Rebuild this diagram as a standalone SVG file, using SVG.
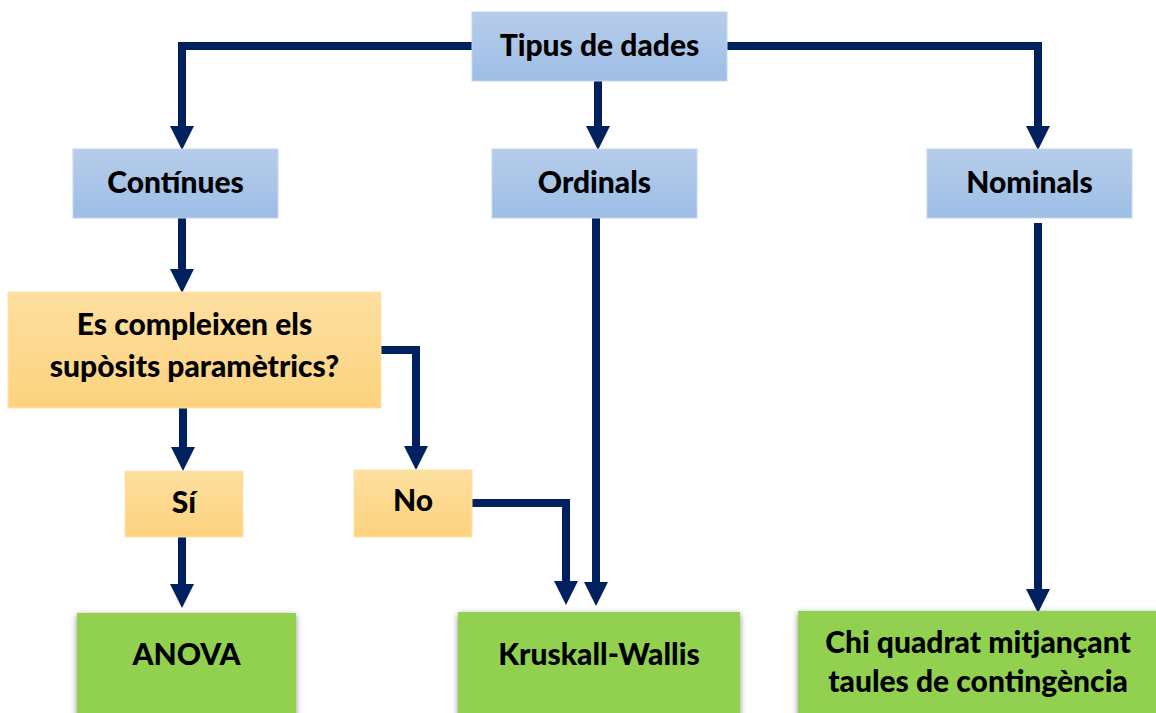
<svg xmlns="http://www.w3.org/2000/svg" width="1156" height="713" viewBox="0 0 1156 713">
<style>
.t{font-family:Lato,"Liberation Sans",sans-serif;font-weight:900;font-size:30px;fill:#000;text-anchor:middle}
.c{fill:none;stroke:#002060;stroke-width:8}
.blue{fill:url(#gb);stroke:#c4d6ee;stroke-width:1}
.org{fill:url(#go);stroke:#fde3a8;stroke-width:1}
.grn{fill:#92d050;filter:url(#sh)}
</style>
<defs>
<linearGradient id="gb" x1="0" y1="0" x2="0" y2="1">
<stop offset="0" stop-color="#b7cdea"/>
<stop offset="1" stop-color="#9dbde6"/>
</linearGradient>
<linearGradient id="go" x1="0" y1="0" x2="0" y2="1">
<stop offset="0" stop-color="#fedfa0"/>
<stop offset="1" stop-color="#fcd37e"/>
</linearGradient>
<filter id="sh" x="-10%" y="-10%" width="120%" height="130%">
<feDropShadow dx="0" dy="2" stdDeviation="3" flood-color="#000" flood-opacity="0.45"/>
</filter>
</defs>
<g id="connectors">
<path class="c" d="M472,46 H182 V126"/>
<path class="c" d="M727,46 H1038 V126"/>
<path class="c" d="M598,81 V126"/>
<path class="c" d="M182,218 V270"/>
<path class="c" d="M183,408 V448"/>
<path class="c" d="M381,350 H416 V447"/>
<path class="c" d="M182,537 V585"/>
<path class="c" d="M472,503 H566 V582"/>
<path class="c" d="M596,218 V583"/>
<path class="c" d="M1038,223 V590"/>
<g fill="#002060">
<path d="M170,126 L194,126 L182,150 Z"/>
<path d="M1026,126 L1050,126 L1038,150 Z"/>
<path d="M586,126 L610,126 L598,150 Z"/>
<path d="M170,269 L194,269 L182,293 Z"/>
<path d="M171,447 L195,447 L183,471 Z"/>
<path d="M404,446 L428,446 L416,470 Z"/>
<path d="M170,584 L194,584 L182,608 Z"/>
<path d="M554,581 L578,581 L566,605 Z"/>
<path d="M584,582 L608,582 L596,606 Z"/>
<path d="M1026,589 L1050,589 L1038,613 Z"/>
</g>
</g>
<g id="n-tipus"><rect class="blue" x="472" y="12" width="255" height="69"/><text class="t" x="599.5" y="56">Tipus de dades</text></g>
<g id="n-continues"><rect class="blue" x="73" y="149" width="205" height="69"/><text class="t" x="175.5" y="193">Contínues</text></g>
<g id="n-ordinals"><rect class="blue" x="492" y="149" width="205" height="69"/><text class="t" x="594.5" y="193">Ordinals</text></g>
<g id="n-nominals"><rect class="blue" x="927" y="149" width="205" height="69"/><text class="t" x="1029.5" y="193">Nominals</text></g>
<g id="n-compleixen"><rect class="org" x="8" y="292" width="373" height="116"/><text class="t" x="194.5" y="335">Es compleixen els</text><text class="t" x="194.5" y="377">supòsits paramètrics?</text></g>
<g id="n-si"><rect class="org" x="125" y="471" width="118" height="66"/><text class="t" x="184" y="513">Sí</text></g>
<g id="n-no"><rect class="org" x="354" y="470" width="118" height="67"/><text class="t" x="413" y="511">No</text></g>
<g id="n-anova"><rect class="grn" x="77" y="613" width="219" height="110"/><text class="t" x="186.5" y="665">ANOVA</text></g>
<g id="n-kruskall"><rect class="grn" x="458" y="612" width="282" height="110"/><text class="t" x="599" y="665">Kruskall-Wallis</text></g>
<g id="n-chi"><rect class="grn" x="798" y="611" width="365" height="110"/><text class="t" x="978" y="653">Chi quadrat mitjançant</text><text class="t" x="978" y="692">taules de contingència</text></g>
</svg>
